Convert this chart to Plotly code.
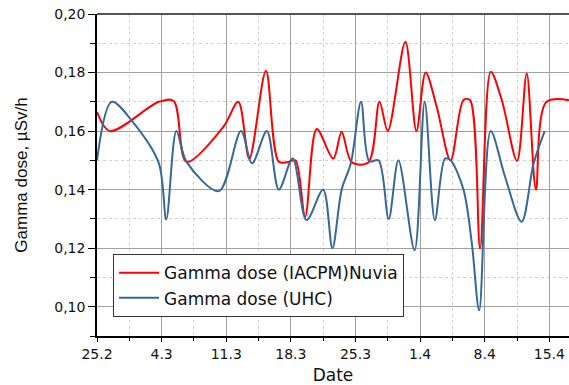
import pandas as pd
import plotly.graph_objects as go

start_date = "2021-02-25"

# Gamma dose (IACPM) Nuvia: day offset from 25.2 and dose (µSv/h)
red_days = [0, 1.4, 6.7, 8.3, 9.7, 13.7, 15.3, 16.5, 18.3, 19.7, 20.8, 21.5, 22.55,
            23.8, 25.6, 26.5, 27.6, 29.4, 30.6, 31.5, 33.4, 34.6, 35.6, 36.8, 38.3,
            39.7, 40.4, 41.5, 42.65, 43.85, 45.5, 46.55, 47.55, 48.7, 52]
red_vals = [0.1666, 0.160, 0.170, 0.1703, 0.1495, 0.1615, 0.170, 0.1506, 0.1806, 0.1495, 0.1495, 0.150, 0.1307,
            0.1607, 0.1506, 0.1598, 0.1493, 0.1493, 0.170, 0.160, 0.1905, 0.160, 0.180, 0.1683, 0.150,
            0.1706, 0.1706, 0.1199, 0.1803, 0.1706, 0.1498, 0.1797, 0.140, 0.170, 0.170]

# Gamma dose (UHC)
blue_days = [0, 1.6, 4.0, 6.7, 7.5, 8.6, 9.7, 13.2, 15.6, 16.8, 18.4, 19.7, 21.2, 22.7,
             24.5, 25.5, 26.5, 27.5, 28.6, 29.5, 30.5, 31.6, 32.65, 34.4, 35.5, 36.6,
             37.7, 38.3, 39.7, 40.6, 41.4, 42.65, 44.2, 46.0, 47.3, 48.5]
blue_vals = [0.150, 0.170, 0.1626, 0.149, 0.1298, 0.160, 0.1495, 0.1395, 0.160, 0.149, 0.160, 0.140, 0.1506, 0.1296,
             0.140, 0.120, 0.140, 0.149, 0.170, 0.1497, 0.150, 0.130, 0.150, 0.1193, 0.170, 0.1296,
             0.1506, 0.150, 0.140, 0.1218, 0.0988, 0.160, 0.1444, 0.129, 0.149, 0.160]

base = pd.Timestamp(start_date)
red_x = base + pd.to_timedelta(red_days, unit="D")
blue_x = base + pd.to_timedelta(blue_days, unit="D")

DAY = 86400000
x_end = base + pd.to_timedelta(51.13, unit="D")

fig = go.Figure()
fig.add_trace(go.Scatter(x=red_x, y=red_vals, mode="lines", name="Gamma dose (IACPM)Nuvia",
                         line=dict(color="#ff0000", width=2, shape="spline", smoothing=0.9)))
fig.add_trace(go.Scatter(x=blue_x, y=blue_vals, mode="lines", name="Gamma dose (UHC)",
                         line=dict(color="#36689c", width=2, shape="spline", smoothing=0.9)))

fig.update_layout(
    width=569, height=385,
    margin=dict(l=97, r=0, t=14, b=49),
    paper_bgcolor="white", plot_bgcolor="white",
    separators=",.",
    font=dict(family="DejaVu Sans", size=14, color="#111"),
    showlegend=True,
    legend=dict(x=0.034, y=0.254, xanchor="left", yanchor="top",
                bgcolor="white", bordercolor="#333", borderwidth=1,
                font=dict(family="DejaVu Sans", size=17, color="#111"),
                tracegroupgap=0, itemwidth=40),
)

fig.update_xaxes(
    type="date", range=[base, x_end],
    tick0=start_date, dtick=7 * DAY, tickformat="%-d.%-m",
    showline=True, linecolor="black", linewidth=1.5, mirror=False,
    ticks="outside", ticklen=4, tickcolor="black",
    showgrid=True, gridcolor="#a0a0a0", gridwidth=1,
    minor=dict(dtick=3.5 * DAY, tick0=start_date, ticks="outside", ticklen=3, tickcolor="black",
               showgrid=True, gridcolor="#d0d0d0", griddash="dot", gridwidth=1),
    zeroline=False,
    title=dict(text="Date", font=dict(family="DejaVu Sans", size=17), standoff=9),
    tickfont=dict(family="DejaVu Sans", size=14),
)
fig.update_yaxes(
    range=[0.09, 0.20], tick0=0.10, dtick=0.02, tickformat=".2f",
    showline=True, linecolor="black", linewidth=1.5, mirror=False,
    ticks="outside", ticklen=7, tickcolor="black",
    showgrid=True, gridcolor="#a0a0a0", gridwidth=1,
    minor=dict(dtick=0.01, tick0=0.10, ticks="outside", ticklen=5, tickcolor="black",
               showgrid=True, gridcolor="#d0d0d0", griddash="dot", gridwidth=1),
    zeroline=False,
    title=dict(text="Gamma dose, µSv/h", font=dict(family="Liberation Sans", size=17), standoff=22),
    tickfont=dict(family="DejaVu Sans", size=14),
)

# top frame line
fig.add_shape(type="line", xref="paper", yref="paper", x0=0, x1=1, y0=1, y1=1,
              line=dict(color="#555555", width=2))

fig.write_html("out.html")
